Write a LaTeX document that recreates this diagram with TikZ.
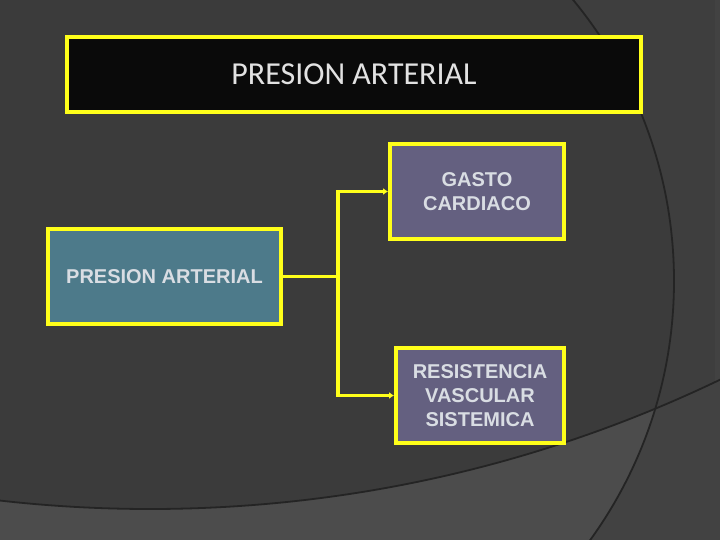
\documentclass[tikz,border=0pt]{standalone}
\usepackage{fontspec}
\setmainfont{Liberation Sans}
\newfontfamily\titlefont{Carlito}
\usetikzlibrary{arrows.meta}
\definecolor{bgin}{HTML}{3B3B3B}
\definecolor{bgout}{HTML}{3E3E3E}
\definecolor{bglow}{HTML}{4C4C4C}
\definecolor{bglowout}{HTML}{424242}
\definecolor{arcline}{HTML}{242424}
\definecolor{ylw}{HTML}{FFFF1A}
\definecolor{tealfill}{HTML}{4D7A8A}
\definecolor{purfill}{HTML}{646080}
\definecolor{txtgray}{HTML}{D9DDE3}
\definecolor{titletxt}{HTML}{E2E2E2}
\tikzset{
  ybox/.style={draw=ylw, line width=4bp, inner sep=0pt, align=center, text=txtgray,
    font=\fontsize{20bp}{24bp}\selectfont\bfseries},
  conn/.style={draw=ylw, line width=3.5bp},
  arr/.style={conn, -{Latex[length=5bp,width=7bp]}}
}
\begin{document}
\begin{tikzpicture}[x=1bp,y=-1bp]
\useasboundingbox (0,0) rectangle (720,540);
\begin{scope}
\clip (0,0) rectangle (720,540);
\fill[bgout] (0,0) rectangle (720,540);
\fill[bgin] (232,281) circle [radius=442];
\begin{scope}
\clip (150,-809) circle [radius=1318] (-10,-10) rectangle (730,560);
\fill[bglowout] (0,0) rectangle (720,540);
\clip (232,281) circle [radius=442];
\fill[bglow] (0,0) rectangle (720,540);
\end{scope}
\fill[bglowout] (715,0) rectangle (720,540);
\draw[arcline, line width=1.8bp] (232,281) circle [radius=442];
\draw[arcline, line width=1.8bp] (150,-809) circle [radius=1318];
\end{scope}

\node[ybox, fill=black!96, minimum width=574bp, minimum height=75bp, text=titletxt,
  font=\titlefont\fontsize{32bp}{36bp}\selectfont] (title) at (354,74.5) {\raisebox{-1.5bp}{PRESION ARTERIAL}};
\node[ybox, fill=tealfill, minimum width=233bp, minimum height=95bp] (pa) at (164.5,276.5) {PRESION ARTERIAL};
\node[ybox, fill=purfill, minimum width=174bp, minimum height=95bp] (gc) at (477,191.5) {GASTO\\CARDIACO};
\node[ybox, fill=purfill, minimum width=168bp, minimum height=95bp] (rvs) at (480,395.5) {RESISTENCIA\\VASCULAR\\SISTEMICA};

\coordinate (j) at (338,276.5);
\draw[conn] (pa.east) -- (j);
\draw[arr] (j) |- (gc.west);
\draw[arr] (j) |- (rvs.west);
\end{tikzpicture}
\end{document}
